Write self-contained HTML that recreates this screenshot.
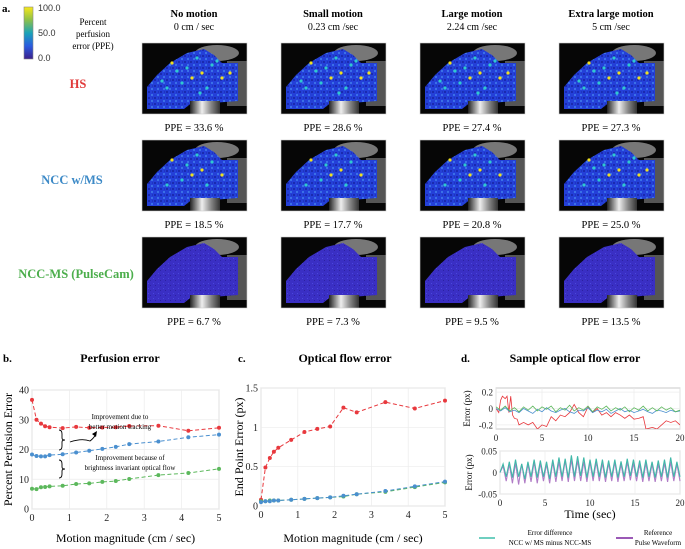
<!DOCTYPE html>
<html><head><meta charset="utf-8"><style>
body{margin:0;background:#fff}
svg{display:block;font-family:"Liberation Serif",serif}
</style></head><body>
<svg id="fig" width="685" height="549" viewBox="0 0 685 549">
<defs>
<linearGradient id="cb" x1="0" y1="1" x2="0" y2="0">
<stop offset="0" stop-color="#3b1f8a"/><stop offset="0.25" stop-color="#2a5be0"/><stop offset="0.5" stop-color="#1aa3b8"/><stop offset="0.75" stop-color="#8cc04a"/><stop offset="1" stop-color="#f8e81a"/>
</linearGradient>
<linearGradient id="cyl" x1="0" y1="0" x2="1" y2="0">
<stop offset="0" stop-color="#222"/><stop offset="0.4" stop-color="#eee"/><stop offset="0.7" stop-color="#888"/><stop offset="1" stop-color="#333"/>
</linearGradient>
<pattern id="tex" width="6" height="6" patternUnits="userSpaceOnUse">
<rect width="6" height="6" fill="#2440d8"/><rect x="0" y="0" width="2" height="2" fill="#1a2ab0"/><rect x="3" y="3" width="2" height="2" fill="#3a70e8"/><rect x="4" y="0" width="1" height="2" fill="#1f35c0"/>
</pattern>
<pattern id="tex2" width="5" height="5" patternUnits="userSpaceOnUse">
<rect width="5" height="5" fill="#3a2fc4"/><rect x="1" y="1" width="1" height="1" fill="#4a48dc"/><rect x="3" y="3" width="1" height="1" fill="#2c22a0"/>
</pattern>
</defs>
<text x="2" y="12" font-size="11" font-weight="bold">a.</text>
<rect x="24" y="7" width="9" height="52" fill="url(#cb)" stroke="#888" stroke-width="0.6"/>
<g font-family="Liberation Sans,sans-serif" font-size="9" fill="#333">
<text x="38" y="11">100.0</text><text x="38" y="36">50.0</text><text x="38" y="61">0.0</text></g>
<g font-size="9" text-anchor="middle">
<text x="93" y="25">Percent</text><text x="93" y="37">perfusion</text><text x="93" y="49">error (PPE)</text></g>
<text x="78" y="88" font-size="12.5" font-weight="bold" fill="#e03a3a" text-anchor="middle">HS</text>
<text x="72" y="184" font-size="12.5" font-weight="bold" fill="#3d8ac7" text-anchor="middle">NCC w/MS</text>
<text x="76" y="278" font-size="12.5" font-weight="bold" fill="#4cae4c" text-anchor="middle">NCC-MS (PulseCam)</text>
<g id="tiles"></g>
<g id="chartb"></g><g id="chartc"></g><g id="chartd"></g>
</svg>
<script>
const NS="http://www.w3.org/2000/svg";
function mk(p,t,a,txt){const e=document.createElementNS(NS,t);for(const k in a)e.setAttribute(k,a[k]);if(txt!=null)e.textContent=txt;p.appendChild(e);return e;}

// ---- panel a ----
const colTitles=["No motion","Small motion","Large motion","Extra large motion"];
const colSpeeds=["0 cm / sec","0.23 cm /sec","2.24 cm /sec","5 cm /sec"];
const ppeHS=["33.6","28.6","27.4","27.3"];
const ppeNCC=["18.5","17.7","20.8","25.0"];
const ppePulse=["6.7","7.3","9.5","13.5"];
const colX=[142,281,420,559], rowY=[43,140,237];
const tiles=document.getElementById('tiles');
const spots=[[30,20],[45,25],[55,15],[60,30],[70,22],[40,40],[80,35],[25,45],[65,45],[50,35],[35,28],[75,18],[88,30],[20,38],[58,50]];
function tile(x,y,lvl,ci,ri){
 const g=mk(tiles,'g',{transform:`translate(${x},${y})`});
 
 
 mk(g,'rect',{x:0,y:0,width:105,height:71,fill:'#060606'});
 mk(g,'ellipse',{cx:75,cy:10,rx:22,ry:8,fill:'#777'});
 mk(g,'rect',{x:85,y:18,width:20,height:45,fill:'#555'});
 mk(g,'polygon',{points:'5,44 15,32 28,20 45,10 62,6 72,12 80,20 96,20 96,58 70,60 52,58 42,66 5,66',fill:lvl>0?'url(#tex)':'url(#tex2)'});
 if(lvl>0){for(let i=0;i<spots.length*lvl/3;i++){const s=spots[i%spots.length];mk(g,'circle',{cx:s[0]+(i>=spots.length?4:0),cy:s[1]+(i>=spots.length?3:0),r:1.6,fill:i%3?'#2fc8d0':'#f0e020'});}}
 mk(g,'rect',{x:48,y:58,width:30,height:13,fill:'url(#cyl)'});
 mk(g,'rect',{x:0,y:0,width:105,height:71,fill:'none',stroke:'#ccc','stroke-width':0.6});
}
const lv=[[3,3,3,3],[2,2,2,2.5],[0,0,0,0]];
const ppes=[ppeHS,ppeNCC,ppePulse];
for(let c=0;c<4;c++){
 const cx=colX[c]+52;
 const t=mk(tiles,'text',{x:cx,y:17,'font-size':10.5,'font-weight':'bold','text-anchor':'middle'},colTitles[c]);
 
 
 const s=mk(tiles,'text',{x:cx,y:30,'font-size':10,'text-anchor':'middle'},colSpeeds[c]);
 
 
 for(let r=0;r<3;r++){
  tile(colX[c],rowY[r],lv[r][c],c,r);
  const p=mk(tiles,'text',{x:cx,y:rowY[r]+88,'font-size':10.5,'text-anchor':'middle'},'PPE = '+(ppes[r][c].length<4?' ':'')+ppes[r][c]+' %');
  
  
 }
}

// ---- shared line chart ----
const motionX=[0,0.12,0.24,0.35,0.47,0.82,1.18,1.53,1.88,2.24,2.6,3.38,4.18,5];
const percRed=[36.7,30,28.7,27.8,27.5,27.2,27.6,27.3,27.4,27.5,27.9,28,26.3,27.3];
const percBlue=[18.3,17.8,17.7,17.7,18.1,18.4,19,19.6,20.2,20.9,21.8,22.7,24.1,25];
const percGreen=[6.8,6.7,7.3,7.4,7.6,7.8,8.4,8.6,9.1,9.4,10.1,11.4,12.1,13.5];
const percTicks=[0,10,20,30,40];
const flowRed=[0.08,0.49,0.61,0.69,0.74,0.84,0.94,0.98,1.01,1.25,1.19,1.32,1.24,1.34];
const flowBlue=[0.05,0.06,0.06,0.07,0.07,0.08,0.09,0.1,0.11,0.13,0.15,0.19,0.25,0.31];
const flowGreen=[0.06,0.06,0.07,0.07,0.07,0.08,0.09,0.1,0.11,0.12,0.15,0.18,0.24,0.3];
const flowTicks=[0,0.5,1,1.5];
const flowTickLabels=["0","0.5","1","1.5"];
const motionTicks=[0,1,2,3,4,5];
const RED='#e8383d',BLUE='#4a8fcf',GREEN='#5cb85c';

function axesBox(g,L,R,T,B,xt,xs,yt,ys,ylab,fs){
 const bx=mk(g,'rect',{x:L,y:T,width:R-L,height:B-T,fill:'#fff',stroke:'#bbb','stroke-width':0.8});
 
 xt.forEach(v=>{mk(g,'line',{x1:xs(v),x2:xs(v),y1:T,y2:B,stroke:'#ececec','stroke-width':0.7});
  const t=mk(g,'text',{x:xs(v),y:B+12,'font-size':fs,'text-anchor':'middle',fill:'#222'},String(v));
  });
 yt.forEach((v,i)=>{mk(g,'line',{x1:L,x2:R,y1:ys(v),y2:ys(v),stroke:'#ececec','stroke-width':0.7});
  const t=mk(g,'text',{x:L-3,y:ys(v)+3.5,'font-size':fs,'text-anchor':'end',fill:'#222'},ylab?ylab[i]:String(v));
  });
}
function series(g,xs,ys,X,Y,col,name){
 const pts=X.map((x,i)=>xs(x)+','+ys(Y[i])).join(' ');
 const l=mk(g,'polyline',{points:pts,fill:'none',stroke:col,'stroke-width':1,'stroke-dasharray':'4,2.5'});
 
 X.forEach((x,i)=>{const c=mk(g,'circle',{cx:xs(x),cy:ys(Y[i]),r:2,fill:col});
  });
}

// chart b
(function(){
 const g=document.getElementById('chartb');
 const L=32,R=219,T=390,B=509;
 const xs=v=>L+(R-L)*v/5, ys=v=>B-(B-T)*v/40;
 mk(g,'text',{x:3,y:362,'font-size':11,'font-weight':'bold'},'b.');
 const tt=mk(g,'text',{x:120,y:362,'font-size':12,'font-weight':'bold','text-anchor':'middle'},'Perfusion error');
 
 axesBox(g,L,R,T,B,motionTicks,xs,percTicks,ys,null,10);
 series(g,xs,ys,motionX,percRed,RED,'hs');
 series(g,xs,ys,motionX,percBlue,BLUE,'ncc-w-ms');
 series(g,xs,ys,motionX,percGreen,GREEN,'ncc-ms');
 const a1=mk(g,'text',{x:120,y:419,'font-size':7,'text-anchor':'middle'},'Improvement due to');
 
 mk(g,'text',{x:120,y:429,'font-size':7,'text-anchor':'middle'},'better motion tracking');
 const a2=mk(g,'text',{x:130,y:460,'font-size':7,'text-anchor':'middle'},'Improvement because of');
 
 mk(g,'text',{x:130,y:470,'font-size':7,'text-anchor':'middle'},'brightness invariant optical flow');
 mk(g,'path',{d:'M59,430 q3,0 3,4 v4 q0,2 3,2 q-3,0 -3,2 v4 q0,4 -3,4',fill:'none',stroke:'#000','stroke-width':0.9});
 mk(g,'path',{d:'M59,460 q3,0 3,4 v3 q0,2 3,2 q-3,0 -3,2 v3 q0,4 -3,4',fill:'none',stroke:'#000','stroke-width':0.9});
 mk(g,'path',{d:'M70,442 q12,-4 20,-1 q4,-3 6,-7',fill:'none',stroke:'#000','stroke-width':0.9});
 mk(g,'polygon',{points:'97,431 92,434 96,437',fill:'#000'});
 const yl=mk(g,'text',{x:0,y:0,'font-size':12,'text-anchor':'middle',transform:`translate(12,${(T+B)/2}) rotate(-90)`},'Percent Perfusion Error');
 
 const xl=mk(g,'text',{x:(L+R)/2,y:542,'font-size':12,'text-anchor':'middle'},'Motion magnitude (cm / sec)');
 
})();

// chart c
(function(){
 const g=document.getElementById('chartc');
 const L=261,R=445,T=388,B=506;
 const xs=v=>L+(R-L)*v/5, ys=v=>B-(B-T)*v/1.5;
 mk(g,'text',{x:238,y:362,'font-size':11,'font-weight':'bold'},'c.');
 const tt=mk(g,'text',{x:345,y:362,'font-size':12,'font-weight':'bold','text-anchor':'middle'},'Optical flow error');
 
 axesBox(g,L,R,T,B,motionTicks,xs,flowTicks,ys,flowTickLabels,10);
 series(g,xs,ys,motionX,flowRed,RED,'hs');
 series(g,xs,ys,motionX,flowGreen,GREEN,'ncc-ms');
 series(g,xs,ys,motionX,flowBlue,BLUE,'ncc-w-ms');
 const yl=mk(g,'text',{x:0,y:0,'font-size':12,'text-anchor':'middle',transform:`translate(243,${(T+B)/2}) rotate(-90)`},'End Point Error (px)');
 
 const xl=mk(g,'text',{x:(L+R)/2,y:542,'font-size':12,'text-anchor':'middle'},'Motion magnitude (cm / sec)');
 
})();

// chart d data
const timeRed=[0,0.3,0.5,0.7,1,1.2,1.4,1.6,1.8,2,2.3,2.5,3,3.5,4,4.5,5,5.5,6,6.5,7,7.5,8,8.5,9,9.5,10,10.5,11,11.5,12,12.5,13,13.5,14,14.5,15,15.5,16,16.3,17,17.5,18,18.5,19,19.5,20];
const errRed=[0,-0.05,0.1,0.15,0.12,0.15,-0.05,0.15,-0.08,-0.12,-0.13,-0.2,-0.17,-0.2,-0.17,-0.25,-0.2,-0.22,-0.1,-0.15,-0.08,-0.1,-0.05,0.05,-0.05,-0.1,0.02,-0.05,0,-0.08,-0.05,-0.1,-0.05,-0.08,-0.12,-0.08,-0.13,-0.12,-0.1,-0.25,-0.23,-0.25,-0.2,-0.15,-0.17,-0.15,-0.2];
const errBlue=[0,-0.03,0.01,-0.04,-0.02,-0.05,0,-0.03,-0.06,-0.01,-0.04,0.01,-0.03,-0.05,-0.02,0,-0.04,-0.06,-0.02,-0.03,0.01,-0.05,-0.02,-0.04,-0.01,-0.06,-0.03,0,-0.04,-0.02,-0.05,-0.03,-0.01,-0.04,-0.06,-0.02,-0.03,-0.05,-0.02,-0.04,-0.03];
const errGreen=[0.02,-0.02,0.03,-0.03,0.01,-0.04,0.02,-0.02,0.03,-0.03,0.02,-0.01,0.03,-0.04,0.01,-0.02,0.04,-0.03,0.01,-0.02,0.03,-0.04,0.02,-0.01,0.03,-0.03,0.01,-0.02,0.02,-0.04,0.01,-0.02,0.03,-0.03,0.01,-0.03,0.02,-0.02,0.01,-0.04,-0.02];
const pulseTeal=[0,0.02,-0.01,0.025,-0.012,0.03,-0.01,0.02,-0.015,0.025,-0.01,0.03,-0.012,0.028,-0.01,0.025,-0.015,0.03,-0.01,0.035,-0.01,0.032,-0.012,0.04,-0.01,0.038,-0.008,0.035,-0.012,0.03,-0.01,0.032,-0.01,0.03,-0.012,0.028,-0.01,0.03,-0.012,0.026,-0.01,0.032,-0.008,0.03,-0.01,0.028,-0.012,0.03,-0.01,0.025,-0.012,0.028,-0.01,0.03,-0.012,0.035,-0.01,0.025,-0.01];
const pulsePurple=[0,0.015,-0.02,0.02,-0.025,0.022,-0.028,0.02,-0.025,0.02,-0.022,0.025,-0.025,0.022,-0.02,0.02,-0.025,0.025,-0.022,0.025,-0.02,0.028,-0.022,0.03,-0.02,0.028,-0.02,0.025,-0.022,0.025,-0.02,0.025,-0.02,0.022,-0.022,0.022,-0.02,0.025,-0.022,0.02,-0.02,0.025,-0.018,0.022,-0.02,0.02,-0.022,0.022,-0.02,0.02,-0.022,0.02,-0.02,0.022,-0.022,0.025,-0.02,0.02,-0.02];
const timeTicks=[0,5,10,15,20];
const topTicks=[-0.2,0,0.2];
const topTickLabels=["-0.2","0","0.2"];
const botTicks=[-0.05,0,0.05];
const botTickLabels=["-0.05","0","0.05"];

(function(){
 const g=document.getElementById('chartd');
 mk(g,'text',{x:461,y:362,'font-size':11,'font-weight':'bold'},'d.');
 const tt=mk(g,'text',{x:575,y:362,'font-size':12,'font-weight':'bold','text-anchor':'middle'},'Sample optical flow error');
 
 function line(gg,xs,ys,X,Y,col,w,name){
  const l=mk(gg,'polyline',{points:X.map((x,i)=>xs(x)+','+ys(Y[i])).join(' '),fill:'none',stroke:col,'stroke-width':w});
  
 }
 const idx=a=>a.map((_,i)=>20*i/(a.length-1));
 // top
 let L=496,R=680,T=388,B=429;
 let xs=v=>L+(R-L)*v/20, ys=v=>T+(B-T)*(0.25-v)/0.5;
 axesBox(g,L,R,T,B,timeTicks,xs,topTicks,ys,topTickLabels,9);
 const cl=mk(g,'clipPath',{id:'clipTop'});mk(cl,'rect',{x:L,y:T,width:R-L,height:B-T});
 const gt=mk(g,'g',{'clip-path':'url(#clipTop)'});
 line(gt,xs,ys,timeRed,errRed,RED,0.8,'hs-error-line');
 line(gt,xs,ys,idx(errBlue),errBlue,BLUE,0.8,'ncc-w-ms-error-line');
 line(gt,xs,ys,idx(errGreen),errGreen,GREEN,0.8,'ncc-ms-error-line');
 mk(g,'text',{x:0,y:0,'font-size':9,'text-anchor':'middle',transform:`translate(470,${(T+B)/2}) rotate(-90)`},'Error (px)');
 // bottom
 L=500;R=680;T=451;B=494;
 const xs2=v=>L+(R-L)*v/20, ys2=v=>T+(B-T)*(0.05-v)/0.1;
 axesBox(g,L,R,T,B,timeTicks,xs2,botTicks,ys2,botTickLabels,9);
 line(g,xs2,ys2,idx(pulsePurple),pulsePurple,'#b07cc6',1.1,'reference-pulse-line');
 line(g,xs2,ys2,idx(pulseTeal),pulseTeal,'#3fb8a8',1.1,'error-difference-line');
 mk(g,'text',{x:0,y:0,'font-size':9,'text-anchor':'middle',transform:`translate(472,${(T+B)/2}) rotate(-90)`},'Error (px)');
 const xl=mk(g,'text',{x:(L+R)/2,y:518,'font-size':12,'text-anchor':'middle'},'Time (sec)');
 
 // legend
 const lg=mk(g,'g',{});
 
 mk(lg,'line',{x1:479,x2:495,y1:538,y2:538,stroke:'#6fcfc0','stroke-width':2});
 mk(lg,'text',{x:550,y:535,'font-size':7,'text-anchor':'middle'},'Error difference');
 mk(lg,'text',{x:550,y:545,'font-size':7,'text-anchor':'middle'},'NCC w/ MS minus NCC-MS');
 mk(lg,'line',{x1:616,x2:633,y1:538,y2:538,stroke:'#9b59b6','stroke-width':2});
 mk(lg,'text',{x:658,y:535,'font-size':7,'text-anchor':'middle'},'Reference');
 mk(lg,'text',{x:658,y:545,'font-size':7,'text-anchor':'middle'},'Pulse Waveform');
})();
</script>
</body></html>
